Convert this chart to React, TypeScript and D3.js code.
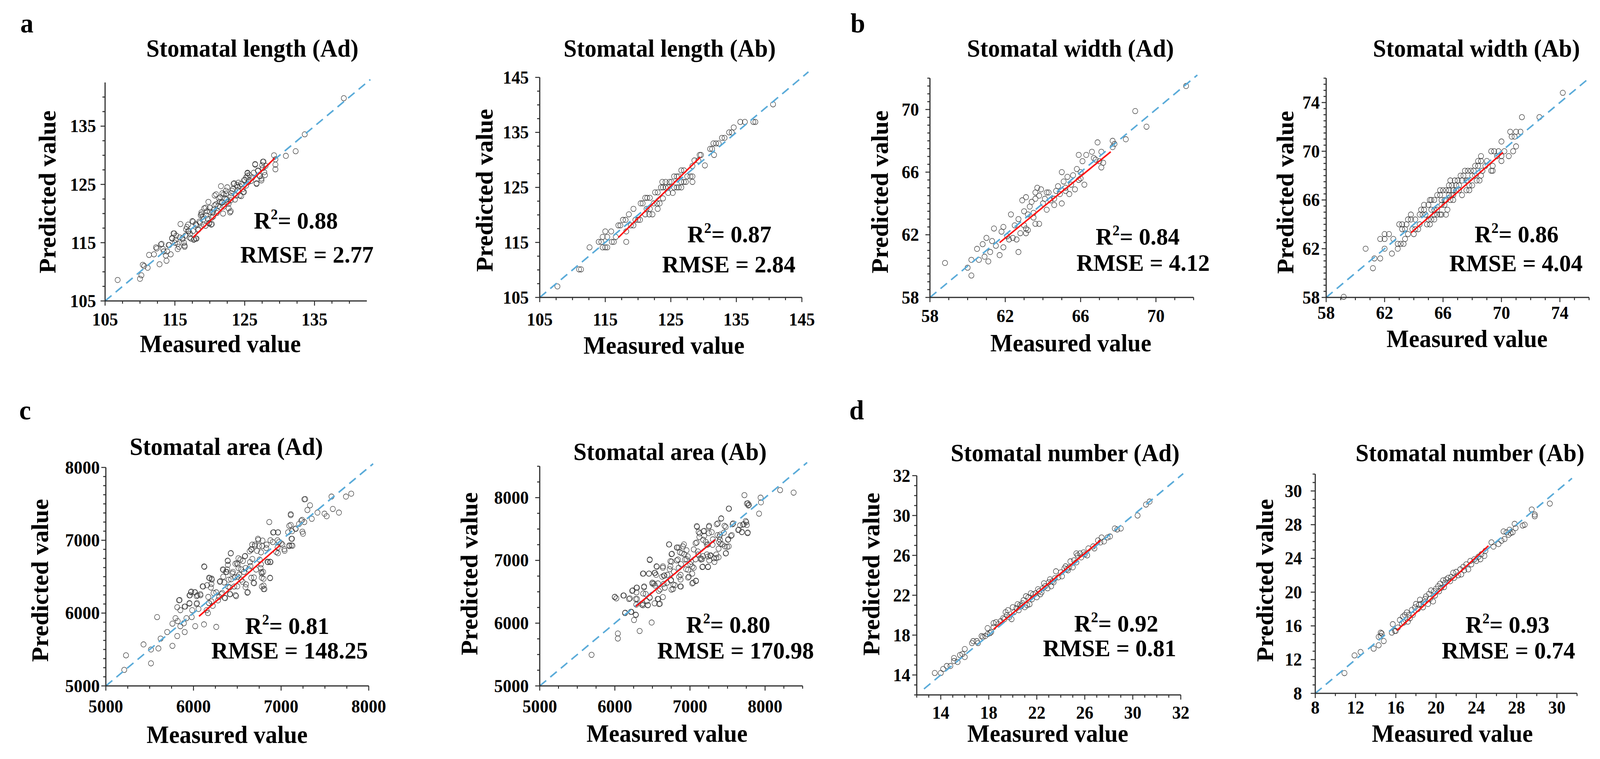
import React from 'react';
import * as d3 from 'd3';

type Pt = [number, number];

// measured vs predicted
const lengthAd: Pt[] = [
  [106.8,108.6],[110.0,108.8],[110.2,109.4],[110.4,111.2],[110.6,111.0],[111.1,110.7],[111.3,112.9],[112.0,113.0],
  [112.4,114.0],[112.8,111.3],[113.1,114.8],[113.4,113.5],[113.7,112.8],[113.8,111.9],[113.9,113.5],[114.4,113.0],
  [114.6,115.7],[114.8,116.6],[115.0,115.0],[115.4,113.9],[115.6,114.3],[115.8,118.2],[116.1,115.8],[116.3,115.0],
  [116.4,114.3],[116.6,117.3],[117.0,117.0],[117.3,115.7],[117.5,118.7],[117.8,115.6],[118.0,115.7],[118.1,118.0],
  [118.5,118.6],[118.7,119.7],[118.8,120.2],[119.1,118.1],[119.4,121.0],[119.7,119.1],[119.9,118.3],[120.2,118.1],
  [120.4,120.2],[120.7,123.1],[120.9,121.6],[121.0,120.1],[121.4,122.0],[121.6,124.7],[121.8,123.5],[121.9,120.0],
  [122.2,122.6],[122.5,124.5],[122.7,121.7],[122.9,120.2],[123.1,123.5],[123.5,125.2],[123.8,123.1],[124.0,123.9],
  [124.3,124.7],[124.9,123.7],[125.0,125.8],[125.4,127.0],[125.7,126.6],[126.1,126.2],[126.5,128.5],[126.7,125.2],
  [126.9,127.4],[127.4,126.0],[127.6,128.9],[127.8,127.1],[127.6,127.8],[129.2,130.0],[129.4,129.3],[129.4,128.4],
  [129.4,127.6],[130.9,129.9],[132.3,130.7],[133.6,133.6],[139.2,139.8],
  [118.3,117.2],[119.0,119.5],[119.6,120.4],[120.0,121.0],[120.6,120.7],[121.2,121.3],[121.5,122.8],[122.0,121.2],
  [122.3,123.4],[122.6,122.0],[123.0,122.3],[123.3,124.2],[123.6,122.4],[124.1,125.3],[124.5,123.0],[124.7,124.2],
  [125.2,124.8],[125.9,125.6],[126.3,127.0],[127.1,126.5],[128.0,128.2],[117.2,116.5],[116.9,118.1],[115.2,116.2],
  [114.2,114.6],[119.8,122.0],[120.3,119.3],[121.7,121.9],[123.9,124.9],[125.5,125.4],
  [112.3,114.2],[113.0,114.7],[113.3,113.9],[114.1,114.6],[114.6,115.8],[114.9,116.6],[115.1,115.5],[115.4,114.8],
  [115.7,115.9],[116.1,115.6],[116.4,114.5],[116.5,116.2],[116.7,117.7],[116.9,117.0],[117.1,115.9],[117.6,118.6],
  [117.6,117.0],[117.7,115.5],[118.1,115.7],[118.0,118.2],[118.4,117.3],[118.6,118.4],[118.8,119.9],[119.1,119.0],
  [119.2,120.9],[119.4,117.9],[119.5,119.7],[119.9,118.4],[120.0,120.3],[120.3,118.2],[120.5,119.5],[120.7,121.4],
  [120.9,123.3],[121.1,120.4],[121.3,122.6],[121.5,121.1],[121.8,121.9],[122.0,123.3],[122.3,123.9],[122.4,122.4],
  [122.7,120.9],[123.0,120.4],[123.0,122.9],[123.2,123.9],[123.4,125.1],[124.0,124.6],[124.3,123.1],[124.5,125.1],
  [124.8,123.7],[124.9,125.7],[125.2,126.2],[125.4,126.9],[125.4,126.5],[126.5,128.4],[126.9,127.3],[127.2,126.4],
  [127.4,125.7],[126.7,125.1],[127.5,128.3],[127.7,128.9],[127.9,126.6],
];

const lengthAb: Pt[] = [
  [107.7,107.0],[111.0,110.1],[111.3,110.1],[112.6,114.1],[114.0,115.1],[114.4,115.1],[114.6,114.1],[115.0,114.1],
  [115.3,114.1],[114.6,116.0],[115.0,117.0],[115.3,116.0],[115.9,117.0],[116.0,115.1],[116.3,115.1],[116.6,116.0],
  [117.0,118.1],[117.3,118.1],[117.7,119.1],[118.1,119.1],[118.2,117.0],[118.2,115.1],[118.6,120.1],[118.9,118.1],
  [119.3,118.1],[119.3,121.1],[119.6,119.1],[120.0,119.1],[120.3,119.1],[120.4,122.1],[120.7,122.1],[121.1,123.1],
  [121.4,123.1],[121.8,123.1],[121.1,120.1],[121.7,120.1],[122.2,120.1],[121.3,121.1],[121.8,121.1],[122.4,122.1],
  [122.9,122.1],[123.3,122.1],[122.6,124.1],[123.0,124.1],[123.0,121.1],[123.5,125.0],[123.8,125.0],[124.2,125.0],
  [124.6,125.0],[123.7,126.0],[124.2,126.0],[124.8,126.0],[125.1,126.0],[123.8,123.0],[124.6,124.0],[125.3,124.0],
  [125.5,125.0],[125.9,125.0],[126.2,125.0],[126.6,125.0],[125.5,127.0],[125.9,127.0],[126.2,127.0],[126.6,126.0],
  [127.0,126.0],[127.3,126.0],[126.6,128.1],[127.0,128.1],[127.5,127.0],[128.0,127.0],[128.3,127.0],[128.3,126.0],
  [128.3,128.9],[128.6,129.9],[129.2,129.9],[129.4,130.9],[129.6,130.9],[130.2,129.0],[131.0,132.0],[131.3,132.0],
  [131.5,133.0],[131.9,133.0],[132.3,133.0],[131.6,130.9],[132.8,134.0],[133.2,134.0],[133.9,135.0],[134.3,135.0],
  [134.6,135.9],[135.6,136.9],[136.3,136.9],[137.6,136.9],[137.9,136.9],[140.6,140.1],
];

const widthAd: Pt[] = [
  [58.8,60.2],[60.0,59.9],[60.2,59.4],[60.2,60.4],[60.5,61.1],[60.6,60.4],[60.8,61.4],[60.9,60.6],[61.1,60.3],
  [61.0,61.8],[61.2,60.9],[61.3,61.6],[61.4,62.4],[61.5,61.3],[61.7,60.7],[61.9,61.2],[61.8,62.2],[61.9,62.5],
  [62.1,61.9],[62.2,61.7],[62.4,61.8],[62.3,63.3],[62.5,62.6],[62.6,61.7],[62.7,63.0],[62.8,62.1],[62.7,60.9],
  [63.0,62.6],[63.1,62.4],[62.9,64.2],[63.0,63.5],[63.1,62.1],[63.2,62.3],[63.1,64.4],[63.2,63.3],[63.3,63.8],
  [63.4,64.1],[63.5,63.4],[63.6,62.7],[63.6,64.7],[63.6,64.3],[63.7,65.0],[63.8,64.5],[63.9,64.9],[63.8,62.7],
  [63.5,63.1],[64.0,64.0],[64.1,64.3],[64.2,63.6],[64.2,64.7],[64.3,64.7],[64.4,64.2],[64.6,63.9],[64.6,64.3],
  [64.7,64.8],[64.8,65.1],[64.9,64.6],[65.0,64.0],[65.0,66.0],[65.1,65.4],[65.2,64.8],[65.2,65.0],[65.3,65.7],
  [65.4,64.6],[65.5,65.2],[65.6,65.8],[65.7,64.9],[65.8,66.2],[65.9,65.5],[66.0,65.6],[66.0,66.0],[66.2,65.2],
  [65.9,67.1],[66.1,66.7],[66.3,67.1],[66.6,67.3],[66.7,66.9],[66.8,66.8],[66.9,67.9],[67.0,66.7],[67.1,66.3],
  [67.1,67.3],[67.2,66.6],[67.7,67.6],[67.7,68.0],[67.8,67.8],[68.4,68.1],[68.9,69.9],[69.5,68.9],[71.6,71.5],
];

const widthAb: Pt[] = [
  [59.2,58.05],[60.7,62.0],[61.2,60.4],[61.3,61.2],[61.7,61.2],[61.7,62.8],[62.0,62.8],[62.0,63.2],[62.0,62.0],
  [62.3,63.2],[62.5,61.6],[62.6,62.8],[62.9,62.0],[62.9,62.4],[63.1,62.4],[63.3,62.4],[63.0,64.0],[63.2,64.0],
  [63.5,64.0],[63.2,63.6],[63.4,63.6],[63.4,62.8],[63.6,64.4],[63.8,64.4],[63.6,63.2],[63.8,64.8],[63.9,63.6],
  [64.1,63.6],[64.3,63.6],[64.0,63.2],[64.4,64.0],[64.1,64.4],[64.5,65.2],[64.7,65.2],[64.4,64.8],[64.6,64.8],
  [64.8,64.8],[64.7,65.6],[65.0,65.6],[64.9,64.0],[65.1,64.0],[65.0,64.4],[65.2,64.4],[65.1,66.0],[65.2,66.0],
  [65.4,66.0],[65.2,65.2],[65.4,65.2],[65.6,65.2],[65.4,64.8],[65.6,64.8],[65.8,64.8],[65.4,64.4],[65.6,66.4],
  [65.8,66.4],[65.9,66.0],[66.1,66.0],[65.9,65.6],[66.1,65.6],[65.9,64.8],[65.8,66.8],[66.0,66.8],[66.2,66.8],
  [66.4,67.2],[66.6,67.2],[66.3,65.2],[66.2,64.8],[66.2,66.0],[66.4,66.4],[66.6,66.4],[66.4,66.8],[66.7,66.8],
  [66.5,67.6],[66.8,67.6],[67.0,67.6],[66.5,66.0],[66.7,66.0],[66.7,66.4],[66.9,66.8],[67.1,66.8],[66.9,67.2],
  [67.1,67.2],[67.2,68.0],[67.4,68.0],[67.3,66.4],[67.3,67.6],[67.6,67.6],[67.7,67.6],[67.5,68.4],[67.7,68.4],
  [67.9,68.4],[68.1,68.4],[67.6,66.8],[67.8,66.8],[67.8,67.2],[68.0,67.2],[68.0,68.0],[68.2,68.0],[68.2,68.8],
  [68.4,68.8],[68.3,67.6],[68.5,67.6],[68.4,69.2],[68.6,69.2],[68.6,68.0],[68.7,68.4],[68.6,69.6],[68.9,68.8],
  [69.0,69.2],[69.3,70.0],[69.5,70.0],[69.4,68.8],[69.4,68.4],[69.3,68.4],[69.7,69.6],[69.8,70.0],[70.0,70.8],
  [70.0,69.2],[70.0,69.6],[70.2,70.0],[70.5,69.6],[70.6,71.6],[70.7,71.2],[70.9,71.2],[70.8,70.0],[71.0,70.4],
  [71.0,71.6],[71.3,71.6],[71.4,72.8],[72.6,72.8],[74.2,74.8],
];

const areaAd: Pt[] = [
  [5210,5220],[5230,5420],[5430,5570],[5515,5310],[5515,5500],[5585,5945],[5600,5515],[5625,5650],[5700,5740],
  [5760,5550],[5760,5855],[5795,5930],[5820,5890],[5815,5685],[5815,6080],[5835,6175],[5850,5820],[5850,6040],
  [5890,5860],[5900,5740],[5905,6090],[5920,5930],[5955,6130],[5960,6245],[5975,6295],[5985,6040],[5980,5945],
  [6015,6285],[6020,5820],[6035,6125],[6045,6245],[6080,6245],[6120,5845],[6125,6635],[6110,6365],[6150,6040],
  [6165,6000],[6175,6140],[6185,6480],[6205,6400],[6210,6460],[6205,6160],[6220,6100],[6260,6285],[6260,5810],
  [6280,6175],[6300,6430],[6320,6260],[6335,6600],[6340,6500],[6355,6210],[6370,6565],[6385,6600],[6390,6720],
  [6395,6365],[6420,6260],[6425,6820],[6430,6465],[6450,6565],[6465,6365],[6480,6245],[6495,6685],[6505,6670],
  [6505,6500],[6535,6735],[6545,6600],[6560,6430],[6575,6565],[6590,6785],[6600,6395],[6615,6280],[6630,6600],
  [6645,6700],[6660,6870],[6670,6940],[6685,6415],[6690,6490],[6700,6940],[6725,6855],[6740,7005],[6755,6735],
  [6770,6670],[6775,6565],[6780,6365],[6785,6920],[6795,6565],[6800,6470],[6810,6330],[6835,6940],[6850,6700],
  [6865,7250],[6875,6480],[6880,6700],[6905,6975],[6915,7110],[6945,6840],[6960,6900],[6965,7110],[6975,6975],
  [7015,6940],[7040,6855],[7080,7110],[7095,6920],[7110,7210],[7125,7125],[7110,7345],[7125,7020],[7130,6925],
  [7165,7160],[7205,7225],[7240,7280],[7265,7250],[7250,7090],[7275,7565],[7300,7415],[7330,7480],[7350,7295],
  [7415,7380],[7495,7365],[7520,7330],[7575,7600],[7590,7430],[7660,7380],[7740,7600],[7800,7640],
  [5842,6180],[5898,6089],[5954,6137],[5954,6244],[5971,6287],[6018,6287],[6036,6233],[6079,6260],[6040,6137],
  [6057,6057],[6104,6367],[6121,6641],[6156,6383],[6177,6485],[6207,6474],[6169,6222],[6199,6351],[6177,6137],
  [6229,6276],[6306,6437],[6293,6222],[6341,6593],[6350,6421],[6328,6276],[6362,6206],[6379,6566],[6392,6716],
  [6392,6662],[6401,6458],[6414,6351],[6414,6260],[6427,6823],[6444,6544],[6470,6491],[6478,6678],[6487,6233],
  [6500,6367],[6513,6753],[6513,6619],[6521,6528],[6543,6458],[6564,6716],[6586,6780],[6594,6619],[6594,6356],
  [6620,6287],[6641,6850],[6659,6877],[6650,6646],[6659,6485],[6672,6743],[6693,6410],[6702,6920],[6715,6598],
  [6736,7021],[6749,6920],[6766,6619],[6771,6834],[6779,6544],[6779,6485],[6788,6995],[6800,6378],[6800,6330],
  [6831,6893],[6844,6705],[6874,6705],[6874,6485],[6878,7000],[6908,7107],[6964,7107],[6959,7000],[6964,6823],
  [7002,6957],[7037,6877],[7093,6930],[7118,6930],[7118,7021],[7110,7359],[7093,7198],[7166,7156],[7230,7268],
  [7243,7118],[7265,7563],
];

const areaAb: Pt[] = [
  [5690,5495],[6000,6420],[6020,6395],[6040,5835],[6040,5755],[6120,6440],[6135,6160],[6200,6395],[6230,6515],
  [6220,6180],[6255,6050],[6280,6130],[6285,6295],[6295,6565],[6295,6385],[6330,5875],[6360,6295],[6375,6310],
  [6380,6790],[6390,6585],[6410,6465],[6425,6350],[6440,6290],[6455,6790],[6465,6405],[6465,7015],[6490,6010],
  [6500,6630],[6520,6630],[6535,6600],[6535,6800],[6560,6900],[6570,6385],[6585,6515],[6600,6310],[6630,6740],
  [6640,6905],[6650,6625],[6660,6760],[6665,6565],[6695,6645],[6720,7255],[6730,6860],[6745,6680],[6755,6980],
  [6760,7105],[6775,6545],[6785,6820],[6800,6605],[6825,7205],[6850,7205],[6840,7015],[6855,6740],[6870,6585],
  [6880,6940],[6890,7115],[6920,7255],[6935,7015],[6950,6860],[6970,7065],[6985,6740],[7015,6980],[7030,6900],
  [7040,6645],[7050,7175],[7075,7275],[7080,6670],[7095,7535],[7110,7095],[7130,7430],[7145,7015],[7160,7020],
  [7170,6900],[7190,7470],[7210,7295],[7225,7095],[7240,7255],[7255,7550],[7240,6900],[7270,7075],[7290,7450],
  [7305,7335],[7320,7035],[7350,7095],[7370,7590],[7385,7295],[7400,7410],[7415,7665],[7430,7255],[7460,7550],
  [7480,7115],[7495,7215],[7510,7335],[7520,7825],[7545,7390],[7575,7590],[7650,7490],[7690,7450],[7705,7570],
  [7725,8040],[7750,7610],[7770,7910],[7785,7885],[7770,7445],[7920,7745],[7940,8000],[7945,7925],[8200,8120],
  [8380,8080],
  [5998,6416],[6113,6441],[6188,6385],[6138,6167],[6213,6180],[6278,6136],[6238,6521],[6288,6565],[6288,6490],
  [6278,6385],[6373,6285],[6388,6571],[6378,6472],[6439,6285],[6464,6410],[6373,6789],[6454,6789],[6464,7006],
  [6499,6646],[6529,6801],[6549,6770],[6554,6906],[6529,6316],[6589,6304],[6579,6385],[6574,6633],[6604,6540],
  [6639,6882],[6639,6416],[6654,6757],[6699,6770],[6724,7254],[6739,6987],[6739,6906],[6754,7099],[6749,6689],
  [6754,6534],[6779,6615],[6825,7000],[6830,7205],[6850,6882],[6875,6770],[6875,6695],[6880,6583],[6865,7130],
  [6905,7223],[6925,7099],[6955,7161],[6955,7018],[6975,6726],[6975,6851],[7005,6938],[7030,6789],[7030,6633],
  [7080,6677],[7050,6882],[7075,7018],[7090,7546],[7090,7285],[7105,7143],[7115,7453],[7125,7372],[7140,7037],
  [7165,6894],[7241,6894],[7175,7329],[7190,7391],[7180,7465],[7175,7068],[7225,7248],[7241,7062],[7256,7000],
  [7251,7533],[7251,7434],[7276,7080],[7301,7248],[7326,6975],[7351,7037],[7381,7050],[7356,7577],[7366,7403],
  [7391,7378],[7381,7186],[7401,7329],[7406,7267],[7416,7670],[7451,7441],[7476,7533],[7476,7111],[7466,7223],
  [7506,7329],[7516,7223],[7516,7826],[7557,7403],[7567,7577],[7642,7484],[7667,7558],[7692,7453],[7717,7577],
  [7757,7565],[7742,7627],[7767,7434],[7777,7876],[7757,7906],
];

const numberAd: Pt[] = [
  [13.5,14.2],[14.0,14.2],[14.2,14.6],[14.5,14.9],[14.8,14.9],[15.1,15.7],[15.1,15.4],[15.4,15.3],[15.6,16.0],
  [15.8,16.1],[16.0,15.8],[16.0,16.6],[16.6,17.2],[16.7,17.4],[17.0,17.4],[17.1,17.2],[17.4,17.9],[17.5,17.8],
  [17.7,17.9],[17.9,18.7],[17.9,18.1],[18.1,18.2],[18.2,18.3],[18.4,18.8],[18.4,19.2],[18.6,19.3],[18.8,19.1],
  [19.0,19.4],[19.2,19.7],[19.4,20.3],[19.5,20.0],[19.6,20.5],[19.7,19.8],[19.9,19.6],[20.0,20.8],[20.1,20.3],
  [20.3,20.7],[20.4,21.1],[20.5,20.5],[20.6,21.0],[20.8,21.2],[20.9,21.5],[21.0,20.8],[21.2,21.0],[21.1,21.9],
  [21.3,21.8],[21.5,22.2],[21.6,21.6],[21.7,22.1],[21.9,22.2],[22.0,21.8],[22.1,22.6],[22.3,22.1],[22.4,22.3],
  [22.5,22.7],[22.6,23.2],[22.7,22.9],[22.9,22.7],[23.0,23.3],[23.1,23.6],[23.3,23.4],[23.4,23.3],[23.5,23.7],
  [23.6,24.4],[23.8,23.8],[24.0,24.3],[24.1,23.9],[24.3,24.7],[24.4,24.9],[24.5,24.6],[24.7,24.8],[24.8,25.4],
  [25.0,24.8],[25.1,25.5],[25.3,25.3],[25.3,26.2],[25.4,26.0],[25.6,26.2],[25.7,25.8],[25.9,26.3],[26.2,26.0],
  [26.3,26.7],[26.7,26.9],[26.8,26.7],[27.1,27.5],[27.3,27.3],[27.4,27.8],[27.6,27.4],[27.9,27.8],[28.1,27.9],
  [28.5,28.7],[28.7,28.6],[29.0,28.7],[30.4,30.0],[31.1,31.1],[31.4,31.4],
  [19.3,19.6],[20.7,20.9],[22.2,22.4],[24.6,24.5],[26.0,26.1],[23.2,22.9],[21.4,21.1],
];

const numberAb: Pt[] = [
  [10.9,10.4],[11.9,12.5],[12.5,12.9],[13.8,13.3],[14.3,13.7],[14.3,14.7],[14.5,15.2],[14.6,15.1],[14.5,14.8],
  [14.8,14.2],[15.6,15.2],[15.7,16.2],[15.9,15.4],[16.0,15.4],[16.2,15.8],[16.4,16.7],[16.6,16.3],[16.7,17.1],
  [16.8,16.4],[16.9,17.3],[17.1,17.6],[17.2,16.5],[17.3,17.3],[17.4,16.9],[17.6,17.9],[17.7,17.3],[17.9,18.2],
  [18.0,18.6],[18.2,18.0],[18.3,18.5],[18.4,19.1],[18.5,18.6],[18.7,18.2],[18.8,18.8],[18.9,19.2],[19.0,19.5],
  [19.2,18.6],[19.3,19.8],[19.4,19.2],[19.5,20.2],[19.7,18.9],[19.8,20.1],[19.9,19.6],[20.0,20.4],[20.2,20.7],
  [20.3,20.1],[20.4,21.0],[20.5,20.5],[20.7,21.4],[20.8,20.6],[20.9,21.1],[21.0,21.5],[21.2,21.7],[21.4,21.3],
  [21.5,21.8],[21.7,22.3],[21.8,21.7],[22.0,22.4],[22.2,22.0],[22.4,22.7],[22.5,22.1],[22.7,23.0],[22.8,22.6],
  [23.0,23.3],[23.2,22.7],[23.4,23.7],[23.5,23.3],[23.8,23.9],[24.0,23.7],[24.2,24.2],[24.4,23.9],[24.5,24.5],
  [24.8,24.3],[24.9,24.9],[25.5,25.9],[25.7,25.4],[26.2,25.7],[26.5,26.1],[26.8,26.3],[26.7,27.2],[27.0,27.1],
  [27.2,26.8],[27.3,27.4],[27.4,27.0],[27.6,27.1],[27.8,28.1],[27.9,27.6],[28.6,27.9],[28.8,28.0],[29.5,29.8],
  [29.8,29.2],[29.8,29.0],[31.3,30.5],
];

const titles = [
  'Stomatal length (Ad)', 'Stomatal length (Ab)', 'Stomatal width (Ad)', 'Stomatal width (Ab)',
  'Stomatal area (Ad)', 'Stomatal area (Ab)', 'Stomatal number (Ad)', 'Stomatal number (Ab)',
];
const r2Values = ['0.88', '0.87', '0.84', '0.86', '0.81', '0.80', '0.92', '0.93'];
const rmseValues = ['2.77', '2.84', '4.12', '4.04', '148.25', '170.98', '0.81', '0.74'];

// fitted (red) line ends: [x1, y1, x2, y2]
const fitLines = [
  [117.6, 115.9, 129.3, 129.5], [117.0, 115.9, 129.5, 130.5], [61.7, 61.5, 67.6, 67.3], [63.8, 63.3, 70.1, 69.9],
  [6063, 5956, 6986, 6929], [6280, 6268, 7336, 7331], [18.4, 18.6, 27.3, 27.5], [16.1, 15.45, 25.2, 25.5],
];
// 1:1 reference line extent
const diagRanges: [number, number][] = [
  [105, 143], [105, 146], [58, 72.2], [58, 75.9], [5000, 8050], [5000, 8560], [12.6, 34.2], [8, 33.5],
];

const domains: [number, number][] = [
  [105, 142.5], [105, 145], [58, 72], [58, 76], [5000, 8000], [5000, 8500], [12, 34], [8, 34],
];
// [first, last, step]
const xTickRanges = [
  [105, 140, 2.5], [105, 145, 2.5], [58, 72, 1], [58, 76, 1], [5000, 8000, 250], [5000, 8500, 250], [12, 34, 1], [8, 34, 2],
];
const yTickRanges = [
  [105, 140, 2.5], [105, 145, 2.5], [58, 72, 0.5], [58, 76, 0.5], [5000, 8000, 125], [5000, 8500, 250], [12, 34, 1], [8, 34, 1],
];
const xLabelVals = [
  [105, 115, 125, 135], [105, 115, 125, 135, 145], [58, 62, 66, 70], [58, 62, 66, 70, 74],
  [5000, 6000, 7000, 8000], [5000, 6000, 7000, 8000], [14, 18, 22, 26, 30, 34], [8, 12, 16, 20, 24, 28, 32],
];
const yLabelVals = [
  [105, 115, 125, 135], [105, 115, 125, 135, 145], [58, 62, 66, 70], [58, 62, 66, 70, 74],
  [5000, 6000, 7000, 8000], [5000, 6000, 7000, 8000], [14, 18, 22, 26, 30, 34], [8, 12, 16, 20, 24, 28, 32],
];
// tick texts as printed (the last labels of d are printed as 32 / 30)
const numberAdTickText = ['14', '18', '22', '26', '30', '32'];
const numberAbTickText = ['8', '12', '16', '20', '24', '28', '30'];

const seriesList = [lengthAd, lengthAb, widthAd, widthAb, areaAd, areaAb, numberAd, numberAb];

// page layout, one entry per panel
const layout = [
  { left: 279, bottom: 770, w: 695, h: 559, tx: 670, ty: 145, r2: [674, 585], rm: [638, 672], mv: [585, 901], pv: [147, 491], yo: 24, xo: 63 },
  { left: 1433, bottom: 761, w: 696, h: 563, tx: 1778, ty: 145, r2: [1825, 620], rm: [1758, 697], mv: [1763, 905], pv: [1308, 487], yo: 29, xo: 72 },
  { left: 2469, bottom: 761, w: 700, h: 561, tx: 2842, ty: 145, r2: [2909, 626], rm: [2858, 693], mv: [2843, 899], pv: [2357, 491], yo: 29, xo: 63 },
  { left: 3521, bottom: 761, w: 698, h: 561, tx: 3920, ty: 145, r2: [3915, 620], rm: [3848, 694], mv: [3895, 888], pv: [3434, 492], yo: 17, xo: 55 },
  { left: 281, bottom: 1755, w: 698, h: 559, tx: 601, ty: 1164, r2: [651, 1622], rm: [561, 1685], mv: [603, 1901], pv: [128, 1485], yo: 16, xo: 68 },
  { left: 1433, bottom: 1755, w: 698, h: 562, tx: 1779, ty: 1177, r2: [1822, 1619], rm: [1745, 1685], mv: [1771, 1898], pv: [1267, 1468], yo: 29, xo: 68 },
  { left: 2434, bottom: 1778, w: 701, h: 561, tx: 2828, ty: 1180, r2: [2852, 1616], rm: [2769, 1679], mv: [2782, 1898], pv: [2335, 1469], yo: 17, xo: 61 },
  { left: 3492, bottom: 1774, w: 695, h: 561, tx: 3903, ty: 1180, r2: [3891, 1619], rm: [3828, 1685], mv: [3856, 1898], pv: [3380, 1485], yo: 35, xo: 52 },
];

const panelLetters = [
  { t: 'a', x: 54, y: 83 }, { t: 'b', x: 2258, y: 83 }, { t: 'c', x: 51, y: 1073 }, { t: 'd', x: 2255, y: 1073 },
];

const FONT = '"Liberation Serif", "Times New Roman", Times, serif';
const AXIS = '#2b2b2b';
const BLUE = '#5aabd9';
const RED = '#ff1414';

function tickText(i: number, v: number, k: number) {
  if (i === 6) return numberAdTickText[k];
  if (i === 7) return numberAbTickText[k];
  return String(v);
}

function Panel({ i }: { i: number }) {
  const L = layout[i];
  const dom = domains[i];
  const x = d3.scaleLinear().domain(dom).range([L.left, L.left + L.w]);
  const y = d3.scaleLinear().domain(dom).range([L.bottom, L.bottom - L.h]);
  const [xs, xe, xst] = xTickRanges[i];
  const [ys, ye, yst] = yTickRanges[i];
  const xt = d3.range(xs, xe + xst / 2, xst);
  const yt = d3.range(ys, ye + yst / 2, yst);
  const isMajor = (vals: number[], v: number) => vals.some((u) => Math.abs(u - v) < 1e-6);
  const [d0, d1] = diagRanges[i];
  const f = fitLines[i];

  return (
    <g>
      <text x={L.tx} y={L.ty} textAnchor="middle" fontSize={63} fontWeight="bold">{titles[i]}</text>

      {seriesList[i].map((p, k) => (
        <circle key={k} cx={x(p[0])} cy={y(p[1])} r={6.8} fill="none" stroke="#3a3a3a" strokeWidth={1.3} />
      ))}

      <line x1={x(d0)} y1={y(d0)} x2={x(d1)} y2={y(d1)} stroke={BLUE} strokeWidth={4} strokeDasharray="22 14" />
      <line x1={x(f[0])} y1={y(f[1])} x2={x(f[2])} y2={y(f[3])} stroke={RED} strokeWidth={4} />

      {/* axes */}
      <line x1={L.left} y1={L.bottom} x2={L.left + L.w} y2={L.bottom} stroke={AXIS} strokeWidth={3} />
      <line x1={L.left} y1={L.bottom} x2={L.left} y2={L.bottom - L.h} stroke={AXIS} strokeWidth={3} />
      {xt.map((v) => {
        const len = isMajor(xLabelVals[i], v) ? 12 : 7;
        return <line key={'xt' + v} x1={x(v)} x2={x(v)} y1={L.bottom} y2={L.bottom + len} stroke={AXIS} strokeWidth={2.5} />;
      })}
      {yt.map((v) => {
        const len = isMajor(yLabelVals[i], v) ? 12 : 7;
        return <line key={'yt' + v} x1={L.left} x2={L.left - len} y1={y(v)} y2={y(v)} stroke={AXIS} strokeWidth={2.5} />;
      })}
      {xLabelVals[i].map((v, k) => (
        <text key={'xl' + v} x={x(v)} y={L.bottom + L.xo} textAnchor="middle" fontSize={46} fontWeight="bold">
          {tickText(i, v, k)}
        </text>
      ))}
      {yLabelVals[i].map((v, k) => (
        <text key={'yl' + v} x={L.left - L.yo} y={y(v)} dy="0.34em" textAnchor="end" fontSize={46} fontWeight="bold">
          {tickText(i, v, k)}
        </text>
      ))}

      <text x={L.mv[0]} y={L.mv[1]} textAnchor="middle" fontSize={63} fontWeight="bold">Measured value</text>
      <text transform={`translate(${L.pv[0]},${L.pv[1]}) rotate(-90)`} textAnchor="middle" fontSize={63} fontWeight="bold">
        Predicted value
      </text>

      <text x={L.r2[0]} y={L.r2[1]} fontSize={62} fontWeight="bold">
        R<tspan fontSize={38} dy={-24}>2</tspan>
        <tspan dy={24}>= {r2Values[i]}</tspan>
      </text>
      <text x={L.rm[0]} y={L.rm[1]} fontSize={62} fontWeight="bold">RMSE = {rmseValues[i]}</text>
    </g>
  );
}

export default function App() {
  return (
    <div style={{ position: 'fixed', left: 0, top: 0, width: '100vw', height: '100vh', overflow: 'hidden', background: '#fff' }}>
      <svg
        width="100%"
        height="100%"
        viewBox="0 0 4248 1942"
        preserveAspectRatio="none"
        style={{ display: 'block' }}
        fontFamily={FONT}
        fill="#000"
      >
        <rect width={4248} height={1942} fill="#fff" />
        {panelLetters.map((p) => (
          <text key={p.t} x={p.x} y={p.y} fontSize={70} fontWeight="bold">{p.t}</text>
        ))}
        {seriesList.map((_, i) => (
          <Panel key={i} i={i} />
        ))}
      </svg>
    </div>
  );
}
